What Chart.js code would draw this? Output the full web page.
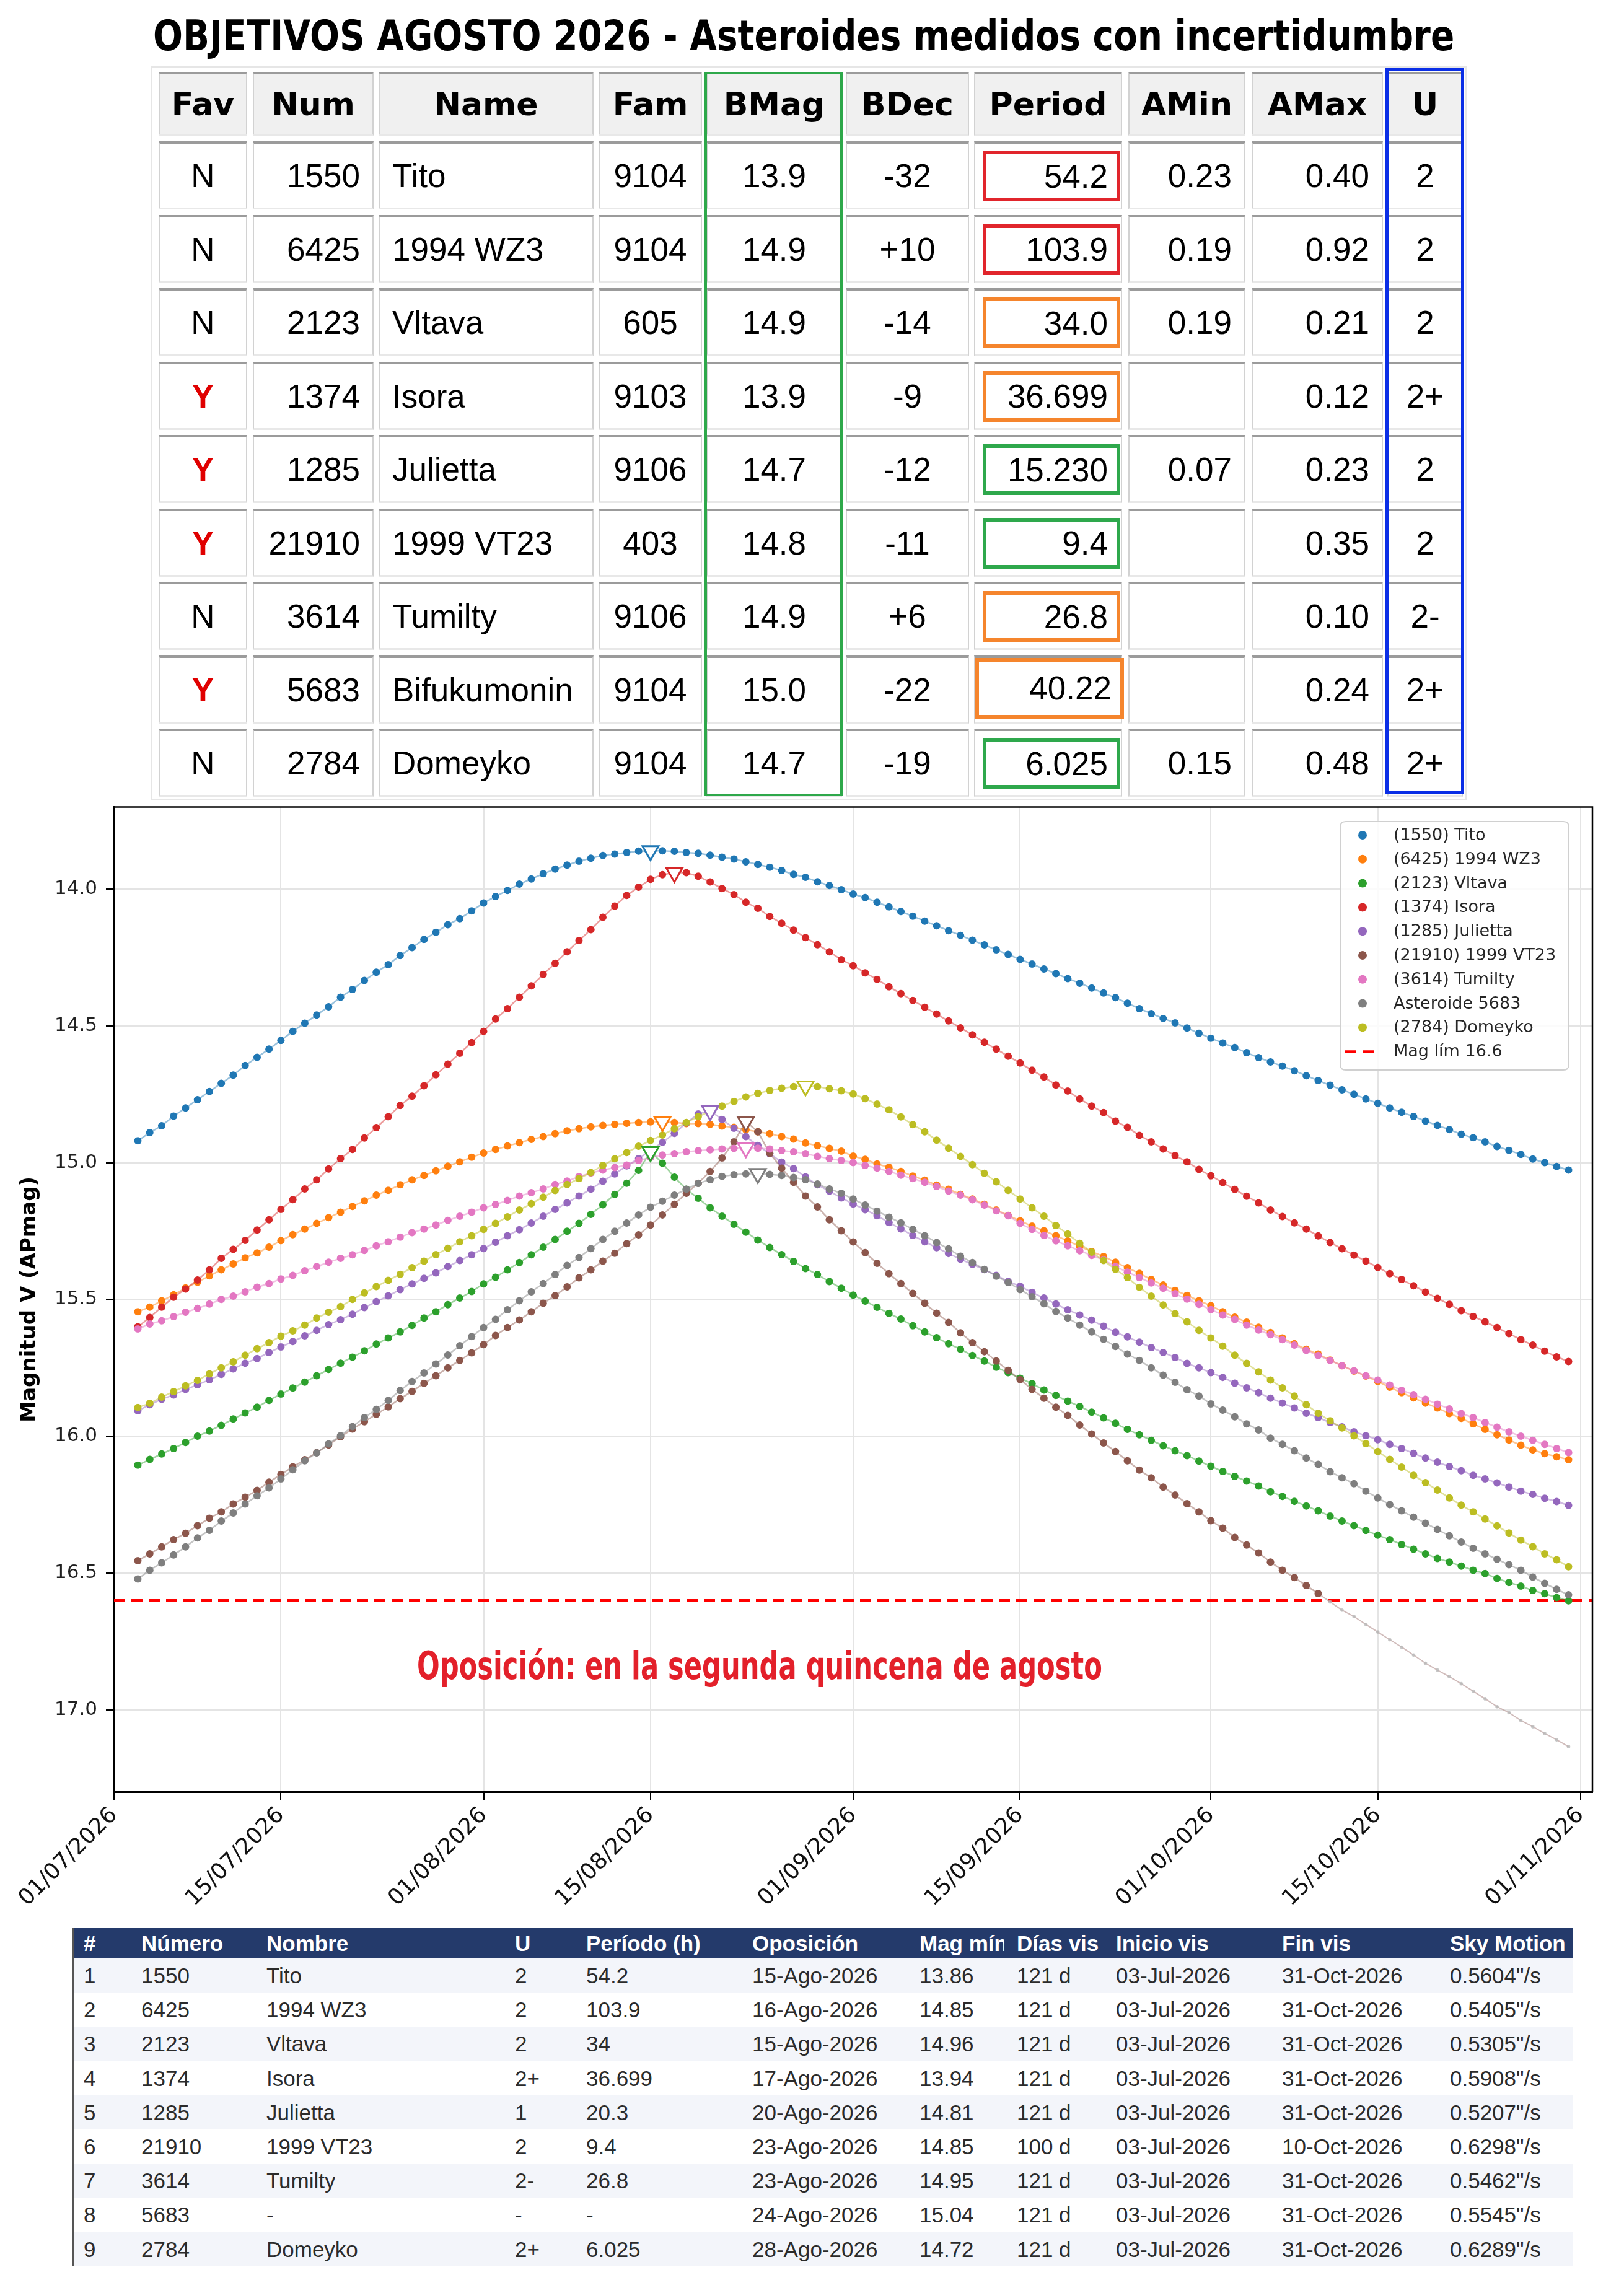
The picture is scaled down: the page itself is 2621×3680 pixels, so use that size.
<!DOCTYPE html>
<html>
<head>
<meta charset="utf-8">
<title>Objetivos Agosto 2026</title>
<script src="https://cdn.jsdelivr.net/npm/chart.js@4.4.1/dist/chart.umd.min.js"></script>
<style>
  html, body { margin:0; padding:0; background:#fff; }
  body { position:relative; width:2621px; height:3680px; overflow:hidden; font-family:"Liberation Sans", Arial, sans-serif; }
  #title { position:absolute; left:247px; top:25px; font:bold 67px "DejaVu Sans", sans-serif; line-height:67px; white-space:nowrap; transform-origin:0 0; color:#000; display:inline-block; }
  .tcell { position:absolute; box-sizing:border-box; border-top:4px solid #9b9b9b; border-left:2px solid #d2d2d2; border-right:2px solid #d2d2d2; border-bottom:3px solid #e8e8e8; display:flex; align-items:center; white-space:nowrap; font-size:53px; color:#000; padding:0 20px; }
  .thead { background:#f0f0f0; font:bold 52px "DejaVu Sans", sans-serif; justify-content:center; padding:0; }
  .pbox { position:absolute; box-sizing:border-box; border:6px solid; display:flex; align-items:center; justify-content:flex-end; padding-right:14px; font-size:53px; white-space:nowrap; background:#fff; }
  .frame { position:absolute; box-sizing:border-box; z-index:5; }
  #chart { position:absolute; left:0; top:1270px; }
  #opos { position:absolute; left:673px; top:2658px; font:bold 62px "Liberation Sans Narrow", "DejaVu Sans Condensed", "DejaVu Sans", sans-serif; line-height:62px; color:#e3202a; white-space:nowrap; transform-origin:0 0; display:inline-block; z-index:6; }
  .brow { position:absolute; left:120px; width:2418px; }
  .btxt { position:absolute; white-space:nowrap; overflow:hidden; font-size:35px; color:#2b2b2b; }
  .bhtxt { position:absolute; white-space:nowrap; overflow:hidden; font:bold 35px "Liberation Sans", Arial, sans-serif; color:#fff; }
</style>
</head>
<body>
<div id="title">OBJETIVOS AGOSTO 2026 - Asteroides medidos con incertidumbre</div>
<div id="toptable"></div>
<canvas id="chart" width="2621" height="1850"></canvas>
<div id="opos">Oposición: en la segunda quincena de agosto</div>
<div id="bottable"></div>
<script>
// ---------------- DATA ----------------
// Top table
const topHeaders = ['Fav','Num','Name','Fam','BMag','BDec','Period','AMin','AMax','U'];
const favs    = ['N','N','N','Y','Y','Y','N','Y','N'];
const nums    = ['1550','6425','2123','1374','1285','21910','3614','5683','2784'];
const names   = ['Tito','1994 WZ3','Vltava','Isora','Julietta','1999 VT23','Tumilty','Bifukumonin','Domeyko'];
const fams    = ['9104','9104','605','9103','9106','403','9106','9104','9104'];
const bmags   = ['13.9','14.9','14.9','13.9','14.7','14.8','14.9','15.0','14.7'];
const bdecs   = ['-32','+10','-14','-9','-12','-11','+6','-22','-19'];
const periods = ['54.2','103.9','34.0','36.699','15.230','9.4','26.8','40.22','6.025'];
const amins   = ['0.23','0.19','0.19','','0.07','','','','0.15'];
const amaxs   = ['0.40','0.92','0.21','0.12','0.23','0.35','0.10','0.24','0.48'];
const us      = ['2','2','2','2+','2','2','2-','2+','2+'];
const periodFlags = ['red','red','orange','orange','green','green','orange','orange','green'];

// Bottom table
const botHeaders = ['#','Número','Nombre','U','Período (h)','Oposición','Mag mín','Días vis','Inicio vis','Fin vis','Sky Motion'];
const bIdx     = ['1','2','3','4','5','6','7','8','9'];
const bNums    = ['1550','6425','2123','1374','1285','21910','3614','5683','2784'];
const bNombres = ['Tito','1994 WZ3','Vltava','Isora','Julietta','1999 VT23','Tumilty','-','Domeyko'];
const bU       = ['2','2','2','2+','1','2','2-','-','2+'];
const bPer     = ['54.2','103.9','34','36.699','20.3','9.4','26.8','-','6.025'];
const oposicion= ['15-Ago-2026','16-Ago-2026','15-Ago-2026','17-Ago-2026','20-Ago-2026','23-Ago-2026','23-Ago-2026','24-Ago-2026','28-Ago-2026'];
const magMin   = ['13.86','14.85','14.96','13.94','14.81','14.85','14.95','15.04','14.72'];
const diasVis  = ['121 d','121 d','121 d','121 d','121 d','100 d','121 d','121 d','121 d'];
const inicioVis= ['03-Jul-2026','03-Jul-2026','03-Jul-2026','03-Jul-2026','03-Jul-2026','03-Jul-2026','03-Jul-2026','03-Jul-2026','03-Jul-2026'];
const finVis   = ['31-Oct-2026','31-Oct-2026','31-Oct-2026','31-Oct-2026','31-Oct-2026','10-Oct-2026','31-Oct-2026','31-Oct-2026','31-Oct-2026'];
const skyMotion= ['0.5604"/s','0.5405"/s','0.5305"/s','0.5908"/s','0.5207"/s','0.6298"/s','0.5462"/s','0.5545"/s','0.6289"/s'];

// Chart axes
const tickLabels = ['01/07/2026','15/07/2026','01/08/2026','15/08/2026','01/09/2026','15/09/2026','01/10/2026','15/10/2026','01/11/2026'];
const xLimits = ['01/07/2026','02/11/2026'];
const yTickValues = [14.0,14.5,15.0,15.5,16.0,16.5,17.0];
const yLimits = [13.7,17.3];
const magLimit = 16.6;
const seriesLabels = ['(1550) Tito','(6425) 1994 WZ3','(2123) Vltava','(1374) Isora','(1285) Julietta','(21910) 1999 VT23','(3614) Tumilty','Asteroide 5683','(2784) Domeyko'];
const limitLabel = 'Mag lím 16.6';

// Daily V magnitude, 03-Jul-2026 .. 31-Oct-2026
const tito = [14.92,14.89,14.865,14.83,14.80,14.77,14.74,14.71,14.68,14.645,
14.615,14.585,14.553,14.52,14.49,14.46,14.43,14.395,14.367,14.334,
14.304,14.276,14.243,14.214,14.184,14.158,14.13,14.108,14.08,14.051,
14.027,14.005,13.982,13.963,13.944,13.927,13.912,13.898,13.887,13.877,
13.872,13.866,13.861,13.86,13.86,13.862,13.866,13.869,13.876,13.883,
13.89,13.90,13.91,13.92,13.932,13.946,13.957,13.973,13.987,14.002,
14.018,14.031,14.048,14.065,14.082,14.099,14.117,14.134,14.152,14.169,
14.187,14.204,14.222,14.239,14.257,14.274,14.292,14.309,14.327,14.344,
14.362,14.38,14.397,14.417,14.437,14.455,14.473,14.489,14.508,14.527,
14.545,14.563,14.579,14.598,14.616,14.632,14.647,14.664,14.682,14.70,
14.717,14.734,14.75,14.767,14.783,14.80,14.816,14.831,14.848,14.864,
14.879,14.896,14.909,14.924,14.941,14.955,14.97,14.987,15.0,15.014,
15.027];
const wz3 = [15.545,15.528,15.505,15.483,15.458,15.437,15.414,15.392,15.37,15.348,
15.33,15.309,15.285,15.263,15.243,15.222,15.201,15.181,15.16,15.14,
15.119,15.101,15.081,15.063,15.047,15.03,15.013,14.997,14.98,14.965,
14.952,14.939,14.927,14.915,14.905,14.894,14.884,14.876,14.869,14.864,
14.86,14.856,14.853,14.851,14.85,14.853,14.857,14.857,14.86,14.866,
14.871,14.88,14.887,14.894,14.905,14.914,14.928,14.938,14.948,14.958,
14.976,14.988,15.005,15.017,15.032,15.049,15.064,15.082,15.097,15.116,
15.133,15.152,15.173,15.193,15.213,15.232,15.249,15.267,15.286,15.306,
15.325,15.343,15.364,15.384,15.405,15.427,15.447,15.467,15.485,15.505,
15.523,15.545,15.565,15.583,15.602,15.621,15.641,15.662,15.682,15.70,
15.722,15.742,15.762,15.78,15.80,15.821,15.841,15.86,15.879,15.897,
15.917,15.935,15.955,15.975,15.995,16.014,16.033,16.05,16.064,16.075,
16.086];
const vltava = [16.106,16.085,16.065,16.045,16.023,16.0,15.981,15.96,15.937,15.915,
15.894,15.869,15.846,15.824,15.802,15.779,15.756,15.733,15.711,15.688,
15.663,15.641,15.619,15.595,15.568,15.545,15.519,15.495,15.471,15.443,
15.419,15.392,15.365,15.337,15.309,15.281,15.251,15.222,15.189,15.154,
15.116,15.075,15.028,14.96,15.002,15.053,15.097,15.13,15.165,15.196,
15.225,15.254,15.283,15.31,15.336,15.361,15.387,15.409,15.435,15.459,
15.484,15.506,15.529,15.551,15.572,15.596,15.619,15.64,15.662,15.682,
15.705,15.725,15.748,15.768,15.788,15.808,15.831,15.851,15.872,15.891,
15.912,15.933,15.953,15.975,15.995,16.015,16.035,16.053,16.071,16.091,
16.11,16.129,16.147,16.164,16.182,16.203,16.22,16.238,16.255,16.273,
16.292,16.31,16.327,16.345,16.362,16.378,16.396,16.413,16.43,16.447,
16.46,16.475,16.49,16.502,16.52,16.535,16.548,16.564,16.576,16.59,
16.602];
const isora = [15.60,15.566,15.528,15.492,15.462,15.429,15.392,15.35,15.317,15.284,
15.246,15.209,15.171,15.135,15.096,15.063,15.023,14.985,14.952,14.91,
14.872,14.832,14.791,14.757,14.719,14.679,14.64,14.60,14.561,14.52,
14.475,14.437,14.395,14.354,14.312,14.271,14.229,14.188,14.148,14.103,
14.062,14.023,13.993,13.964,13.947,13.94,13.94,13.953,13.974,13.998,
14.02,14.048,14.07,14.10,14.125,14.15,14.177,14.203,14.229,14.258,
14.28,14.306,14.33,14.357,14.382,14.407,14.432,14.457,14.482,14.507,
14.533,14.56,14.585,14.611,14.636,14.662,14.687,14.716,14.738,14.767,
14.793,14.817,14.848,14.871,14.90,14.924,14.95,14.974,14.997,15.025,
15.048,15.073,15.098,15.123,15.147,15.173,15.197,15.22,15.243,15.268,
15.292,15.315,15.338,15.36,15.383,15.406,15.427,15.45,15.473,15.496,
15.518,15.541,15.562,15.582,15.603,15.625,15.647,15.667,15.689,15.71,
15.727];
const julietta = [15.907,15.885,15.865,15.849,15.829,15.812,15.794,15.774,15.754,15.733,
15.716,15.694,15.674,15.654,15.633,15.613,15.592,15.574,15.554,15.53,
15.508,15.487,15.464,15.443,15.423,15.403,15.38,15.358,15.337,15.314,
15.291,15.267,15.245,15.221,15.196,15.171,15.147,15.122,15.097,15.068,
15.041,15.012,14.985,14.956,14.926,14.893,14.855,14.822,14.81,14.842,
14.874,14.905,14.937,14.967,14.998,15.022,15.052,15.081,15.104,15.129,
15.151,15.172,15.194,15.219,15.242,15.266,15.289,15.311,15.332,15.353,
15.372,15.391,15.412,15.434,15.452,15.474,15.495,15.517,15.538,15.557,
15.576,15.598,15.62,15.637,15.656,15.676,15.694,15.712,15.734,15.75,
15.768,15.785,15.806,15.823,15.841,15.861,15.879,15.897,15.916,15.932,
15.95,15.966,15.984,15.998,16.013,16.03,16.045,16.063,16.08,16.095,
16.111,16.126,16.143,16.156,16.171,16.186,16.201,16.213,16.227,16.239,
16.253];
const vt23 = [16.455,16.43,16.405,16.378,16.355,16.327,16.30,16.277,16.248,16.223,
16.198,16.168,16.14,16.112,16.086,16.06,16.032,16.002,15.974,15.947,
15.92,15.893,15.863,15.836,15.807,15.779,15.75,15.723,15.695,15.665,
15.632,15.603,15.575,15.545,15.514,15.486,15.454,15.421,15.392,15.36,
15.331,15.296,15.264,15.228,15.191,15.152,15.112,15.075,15.032,14.983,
14.924,14.85,14.887,14.966,15.02,15.072,15.122,15.162,15.209,15.249,
15.29,15.329,15.368,15.406,15.442,15.478,15.514,15.55,15.584,15.622,
15.658,15.691,15.725,15.759,15.793,15.829,15.861,15.894,15.924,15.959,
15.992,16.025,16.056,16.09,16.124,16.152,16.186,16.215,16.247,16.277,
16.309,16.336,16.37,16.398,16.427,16.46,16.49,16.517,16.546,16.575,
16.606,16.636,16.659,16.688,16.716,16.744,16.771,16.80,16.83,16.855,
16.879,16.905,16.932,16.96,16.989,17.011,17.039,17.062,17.087,17.11,
17.135];
const tumilty = [15.608,15.59,15.578,15.563,15.547,15.533,15.517,15.50,15.488,15.472,
15.455,15.442,15.425,15.412,15.395,15.38,15.364,15.35,15.337,15.321,
15.304,15.289,15.272,15.256,15.243,15.228,15.211,15.196,15.181,15.165,
15.153,15.138,15.122,15.11,15.096,15.08,15.067,15.051,15.038,15.027,
15.018,15.009,14.992,14.981,14.972,14.967,14.96,14.956,14.953,14.95,
14.948,14.946,14.947,14.95,14.956,14.96,14.967,14.977,14.985,14.992,
15.0,15.01,15.02,15.032,15.046,15.058,15.072,15.087,15.104,15.119,
15.136,15.155,15.176,15.194,15.222,15.244,15.266,15.286,15.304,15.322,
15.339,15.355,15.38,15.40,15.42,15.44,15.459,15.479,15.499,15.518,
15.537,15.557,15.573,15.594,15.612,15.629,15.647,15.667,15.686,15.705,
15.723,15.742,15.761,15.779,15.795,15.813,15.832,15.848,15.865,15.883,
15.9,15.917,15.932,15.95,15.967,15.984,16.0,16.015,16.03,16.045,
16.06];
const ast5683 = [16.522,16.49,16.463,16.434,16.405,16.372,16.344,16.31,16.281,16.248,
16.218,16.189,16.156,16.123,16.09,16.061,16.028,15.998,15.965,15.932,
15.902,15.869,15.833,15.80,15.769,15.736,15.703,15.669,15.636,15.603,
15.573,15.538,15.505,15.472,15.442,15.409,15.376,15.347,15.314,15.281,
15.251,15.221,15.191,15.163,15.141,15.119,15.097,15.076,15.062,15.05,
15.044,15.041,15.04,15.043,15.047,15.054,15.062,15.078,15.096,15.112,
15.133,15.155,15.177,15.199,15.22,15.244,15.267,15.292,15.315,15.342,
15.365,15.39,15.415,15.438,15.464,15.49,15.516,15.544,15.568,15.594,
15.619,15.646,15.672,15.70,15.723,15.75,15.777,15.803,15.83,15.853,
15.882,15.905,15.929,15.955,15.977,16.007,16.03,16.053,16.08,16.103,
16.13,16.152,16.174,16.201,16.226,16.25,16.273,16.296,16.318,16.341,
16.364,16.387,16.41,16.43,16.45,16.47,16.49,16.515,16.538,16.56,
16.58];
const domeyko = [15.895,15.88,15.857,15.837,15.816,15.796,15.772,15.75,15.728,15.704,
15.68,15.658,15.634,15.615,15.594,15.568,15.547,15.526,15.50,15.476,
15.453,15.43,15.408,15.384,15.36,15.336,15.313,15.289,15.267,15.244,
15.222,15.198,15.173,15.15,15.126,15.102,15.08,15.058,15.036,15.01,
14.986,14.963,14.94,14.919,14.899,14.876,14.853,14.832,14.812,14.793,
14.776,14.76,14.747,14.736,14.728,14.722,14.72,14.722,14.73,14.737,
14.749,14.766,14.786,14.807,14.833,14.861,14.887,14.918,14.947,14.977,
15.007,15.039,15.07,15.101,15.133,15.165,15.196,15.23,15.261,15.295,
15.327,15.358,15.39,15.42,15.456,15.488,15.52,15.552,15.582,15.613,
15.641,15.671,15.704,15.734,15.765,15.795,15.823,15.853,15.885,15.916,
15.944,15.97,15.999,16.027,16.056,16.085,16.113,16.143,16.17,16.197,
16.226,16.252,16.277,16.303,16.328,16.354,16.38,16.404,16.43,16.452,
16.477];
const seriesValues = [tito, wz3, vltava, isora, julietta, vt23, tumilty, ast5683, domeyko];

// ---------------- STYLES / LAYOUT ----------------
const seriesColors = ['#1f77b4','#ff7f0e','#2ca02c','#d62728','#9467bd','#8c564b','#e377c2','#7f7f7f','#bcbd22'];
const flagColors = { red:'#e1252c', orange:'#f5852d', green:'#2ea84c' };

function rgba(hex, a) {
  const n = parseInt(hex.slice(1), 16);
  return 'rgba(' + ((n >> 16) & 255) + ',' + ((n >> 8) & 255) + ',' + (n & 255) + ',' + a + ')';
}
const MONTHS = { Jul:7, Ago:8, Sep:9, Oct:10, Nov:11 };
const ORIGIN = Date.UTC(2026, 6, 1);
function dayFromSlash(s) { const p = s.split('/').map(Number); return (Date.UTC(p[2], p[1]-1, p[0]) - ORIGIN) / 864e5; }
function dayFromDash(s) { const p = s.split('-'); return (Date.UTC(+p[2], MONTHS[p[1]]-1, +p[0]) - ORIGIN) / 864e5; }

// Title width fit
(function(){
  const t = document.getElementById('title');
  const w = t.offsetWidth;
  t.style.transform = 'scaleX(' + (2100 / w) + ')';
  const o = document.getElementById('opos');
  const w2 = o.offsetWidth;
  o.style.transform = 'scaleX(' + (1106 / w2) + ')';
})();

// ---------------- TOP TABLE ----------------
(function(){
  const root = document.getElementById('toptable');
  const cols = [[256,399],[408,603],[611,958],[966,1133],[1140,1359],[1365,1564],[1572,1811],[1821,2010],[2020,2232],[2239,2361]];
  const aligns = ['center','flex-end','flex-start','center','center','center','flex-end','flex-end','flex-end','center'];
  const outer = document.createElement('div');
  outer.style.cssText = 'position:absolute;left:243px;top:106px;width:2124px;height:1186px;border:3px solid #e6e6e6;box-sizing:border-box;';
  root.appendChild(outer);
  function cell(x0, x1, y, h, cls) {
    const d = document.createElement('div');
    d.className = cls;
    d.style.left = x0 + 'px'; d.style.width = (x1 - x0) + 'px';
    d.style.top = y + 'px'; d.style.height = h + 'px';
    root.appendChild(d);
    return d;
  }
  topHeaders.forEach((h, c) => {
    const d = cell(cols[c][0], cols[c][1], 116, 103, 'tcell thead');
    d.textContent = h;
  });
  const columns = [favs, nums, names, fams, bmags, bdecs, periods, amins, amaxs, us];
  for (let r = 0; r < favs.length; r++) {
    const y = 228 + 118.5 * r;
    columns.forEach((arr, c) => {
      const d = cell(cols[c][0], cols[c][1], y, 110, 'tcell');
      d.style.justifyContent = aligns[c];
      if (c === 6) {
        const big = (r === 7);
        const b = document.createElement('div');
        b.className = 'pbox';
        const bx0 = big ? 1574 : 1586, bx1 = big ? 1814 : 1808;
        b.style.left = bx0 + 'px'; b.style.width = (bx1 - bx0) + 'px';
        b.style.top = (y + (big ? 4 : 15)) + 'px'; b.style.height = (big ? 98 : 82) + 'px';
        b.style.borderColor = flagColors[periodFlags[r]];
        b.textContent = arr[r];
        root.appendChild(b);
      } else {
        d.textContent = arr[r];
        if (c === 0 && arr[r] === 'Y') { d.style.color = '#e00000'; d.style.fontWeight = 'bold'; }
      }
    });
  }
  const g = document.createElement('div');
  g.className = 'frame';
  g.style.cssText += 'left:1137px;top:116px;width:223px;height:1169px;border:4px solid #2ea84a;';
  root.appendChild(g);
  const bl = document.createElement('div');
  bl.className = 'frame';
  bl.style.cssText += 'left:2236px;top:110px;width:127px;height:1172px;border:5px solid #0a2ee6;';
  root.appendChild(bl);
})();

// ---------------- BOTTOM TABLE ----------------
(function(){
  const root = document.getElementById('bottable');
  const xs = [135,228,430,831,946,1214,1484,1641,1801,2069,2340];
  const hb = document.createElement('div');
  hb.className = 'brow';
  hb.style.cssText += 'top:3112px;height:49px;background:#243a6b;';
  root.appendChild(hb);
  botHeaders.forEach((h, c) => {
    const d = document.createElement('div');
    d.className = 'bhtxt';
    const right = c < xs.length - 1 ? xs[c+1] - 20 : 2536;
    d.style.left = xs[c] + 'px'; d.style.width = (right - xs[c]) + 'px';
    d.style.top = '3112px'; d.style.height = '49px'; d.style.lineHeight = '49px';
    d.textContent = h;
    root.appendChild(d);
  });
  const cols = [bIdx, bNums, bNombres, bU, bPer, oposicion, magMin, diasVis, inicioVis, finVis, skyMotion];
  for (let r = 0; r < bIdx.length; r++) {
    const y = 3161 + 55.2 * r;
    const rb = document.createElement('div');
    rb.className = 'brow';
    rb.style.top = y + 'px'; rb.style.height = '55.2px';
    rb.style.background = (r % 2 === 0) ? '#f3f5fa' : '#ffffff';
    root.appendChild(rb);
    cols.forEach((arr, c) => {
      const d = document.createElement('div');
      d.className = 'btxt';
      d.style.left = xs[c] + 'px';
      d.style.top = y + 'px'; d.style.height = '55px'; d.style.lineHeight = '55px';
      d.textContent = arr[r];
      root.appendChild(d);
    });
  }
  const lb = document.createElement('div');
  lb.style.cssText = 'position:absolute;left:117px;top:3112px;width:2px;height:546px;background:#555;';
  root.appendChild(lb);
})();

// ---------------- CHART ----------------
const tickDays = tickLabels.map(dayFromSlash);
const xMin = dayFromSlash(xLimits[0]), xMax = dayFromSlash(xLimits[1]);

const datasets = [];
datasets.push({
  label: limitLabel,
  data: [{ x: xMin, y: magLimit }, { x: xMax, y: magLimit }],
  borderColor: '#ff0000', borderWidth: 4, borderDash: [18, 10],
  pointRadius: 0, order: 500, isLimit: true
});
seriesValues.forEach((vals, s) => {
  const start = dayFromDash(inicioVis[s]);
  const end = dayFromDash(finVis[s]);
  const pts = vals.map((v, i) => ({ x: start + i, y: v }));
  const vis = pts.filter(p => p.x <= end);
  const hid = pts.filter(p => p.x >= end);
  datasets.push({
    label: seriesLabels[s], data: vis,
    borderColor: rgba(seriesColors[s], 0.45), borderWidth: 2.5,
    pointBackgroundColor: seriesColors[s], pointBorderWidth: 0, pointRadius: 6,
    tension: 0, order: 100 - s, legendColor: seriesColors[s]
  });
  if (hid.length > 1) {
    datasets.push({
      label: '', data: hid,
      borderColor: 'rgba(190,160,158,0.7)', borderWidth: 2,
      pointBackgroundColor: 'rgba(185,185,185,0.8)', pointBorderWidth: 0, pointRadius: 2.8,
      tension: 0, order: 100 - s + 0.5, skipLegend: true
    });
  }
});
datasets.push({
  label: '', skipLegend: true,
  data: seriesValues.map((vals, s) => {
    const d = dayFromDash(oposicion[s]);
    return { x: d, y: vals[d - dayFromDash(inicioVis[s])] };
  }),
  showLine: false, pointStyle: 'triangle', rotation: 180, pointRadius: 15,
  pointBorderWidth: 3, pointBorderColor: seriesColors, pointBackgroundColor: '#ffffff', order: 0
});

const framePlugin = {
  id: 'frame',
  afterDatasetsDraw(chart) {
    const a = chart.chartArea, c = chart.ctx;
    c.save();
    c.strokeStyle = '#000'; c.lineWidth = 2.5;
    c.beginPath();
    c.moveTo(a.left, a.top); c.lineTo(a.right, a.top); c.lineTo(a.right, a.bottom);
    c.stroke();
    c.restore();
  }
};
const legendPlugin = {
  id: 'boxLegend',
  afterDraw(chart) {
    const c = chart.ctx;
    const x0 = 2163, y0 = 56, w = 369, h = 401, r = 9;
    c.save();
    c.fillStyle = 'rgba(255,255,255,0.85)';
    c.strokeStyle = '#d0d0d0'; c.lineWidth = 2;
    c.beginPath();
    c.moveTo(x0 + r, y0); c.lineTo(x0 + w - r, y0); c.quadraticCurveTo(x0 + w, y0, x0 + w, y0 + r);
    c.lineTo(x0 + w, y0 + h - r); c.quadraticCurveTo(x0 + w, y0 + h, x0 + w - r, y0 + h);
    c.lineTo(x0 + r, y0 + h); c.quadraticCurveTo(x0, y0 + h, x0, y0 + h - r);
    c.lineTo(x0, y0 + r); c.quadraticCurveTo(x0, y0, x0 + r, y0);
    c.closePath(); c.fill(); c.stroke();
    const items = chart.data.datasets.filter(d => !d.skipLegend && !d.isLimit);
    const limit = chart.data.datasets.find(d => d.isLimit);
    const all = items.concat([limit]);
    c.font = '27px "DejaVu Sans", sans-serif';
    c.textBaseline = 'middle';
    all.forEach((d, i) => {
      const yc = 78 + 38.8 * i;
      if (d.isLimit) {
        c.strokeStyle = d.borderColor; c.lineWidth = 4; c.setLineDash([18, 10]);
        c.beginPath(); c.moveTo(2171, yc); c.lineTo(2219, yc); c.stroke();
        c.setLineDash([]);
      } else {
        c.fillStyle = d.legendColor;
        c.beginPath(); c.arc(2199, yc, 7, 0, Math.PI * 2); c.fill();
      }
      c.fillStyle = '#262626';
      c.fillText(d.label, 2249, yc + 1);
    });
    c.restore();
  }
};

new Chart(document.getElementById('chart'), {
  type: 'line',
  data: { datasets },
  options: {
    responsive: false, animation: false, devicePixelRatio: 1,
    layout: { padding: { top: 12.5, right: 51, left: 0, bottom: 0 } },
    plugins: { legend: { display: false }, tooltip: { enabled: false } },
    scales: {
      x: {
        type: 'linear', min: xMin, max: xMax,
        afterBuildTicks: (ax) => { ax.ticks = tickDays.map(v => ({ value: v })); },
        afterFit: (ax) => { ax.height = 228; },
        ticks: {
          autoSkip: false, minRotation: 45, maxRotation: 45, padding: 4,
          callback: (v, i) => tickLabels[i],
          font: { family: 'DejaVu Sans', size: 36 }, color: '#111'
        },
        grid: { color: '#e4e4e4', lineWidth: 2, tickColor: '#000', tickLength: 13, tickWidth: 2 },
        border: { color: '#000', width: 3 }
      },
      y: {
        type: 'linear', reverse: true, min: yLimits[0], max: yLimits[1],
        afterBuildTicks: (ax) => { ax.ticks = yTickValues.map(v => ({ value: v })); },
        afterFit: (ax) => { ax.width = 184; },
        ticks: { callback: (v) => Number(v).toFixed(1), font: { family: 'DejaVu Sans', size: 31 }, color: '#222', padding: 14 },
        grid: { color: '#e4e4e4', lineWidth: 2, tickColor: '#000', tickLength: 13, tickWidth: 2 },
        border: { color: '#000', width: 3 },
        title: { display: true, text: 'Magnitud V (APmag)', color: '#000',
                 font: { family: 'DejaVu Sans', size: 34, weight: 'bold' }, padding: { top: 28, bottom: 0 } }
      }
    }
  },
  plugins: [framePlugin, legendPlugin]
});
</script>
</body>
</html>
